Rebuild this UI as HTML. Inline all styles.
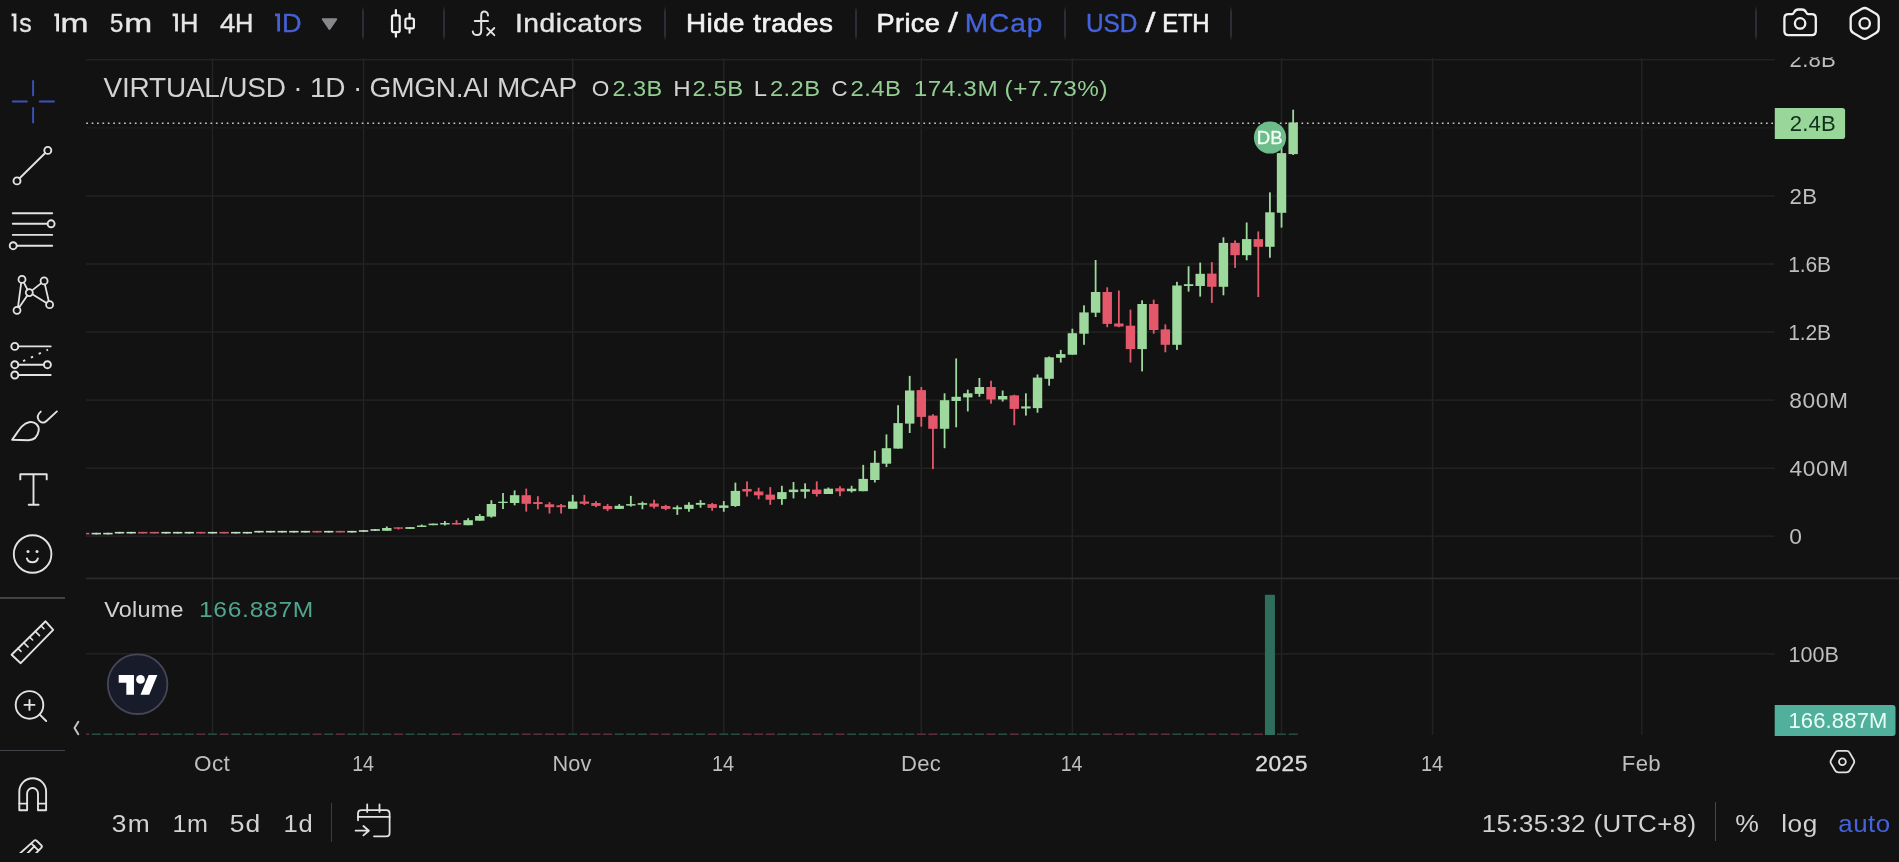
<!DOCTYPE html>
<html><head><meta charset="utf-8"><title>chart</title>
<style>
html,body{margin:0;padding:0;background:#121212;}
body{width:1899px;height:862px;overflow:hidden;position:relative;font-family:"Liberation Sans",sans-serif;}
.t{position:absolute;white-space:pre;font-family:"Liberation Sans",sans-serif;}
svg{position:absolute;left:0;top:0;will-change:transform;}
.sep{position:absolute;width:2px;background:linear-gradient(to bottom,rgba(43,46,55,0),#2b2e37 16%,#2b2e37 84%,rgba(43,46,55,0));border-radius:1px;}
</style></head><body>
<div style="position:absolute;left:0;top:0;width:1899px;height:57px;background:#121212"></div>
<svg width="1899" height="862" viewBox="0 0 1899 862">
<defs><clipPath id="topclip"><rect x="1780" y="57.3" width="80" height="30"/></clipPath><clipPath id="erclip"><rect x="0" y="830" width="70" height="23"/></clipPath><clipPath id="pane"><rect x="86" y="58" width="1689" height="680"/></clipPath></defs>
<rect x="211.75" y="58" width="1.5" height="677" fill="#232324"/><rect x="362.81" y="58" width="1.5" height="677" fill="#232324"/><rect x="571.97" y="58" width="1.5" height="677" fill="#232324"/><rect x="723.03" y="58" width="1.5" height="677" fill="#232324"/><rect x="920.57" y="58" width="1.5" height="677" fill="#232324"/><rect x="1071.63" y="58" width="1.5" height="677" fill="#232324"/><rect x="1280.79" y="58" width="1.5" height="677" fill="#232324"/><rect x="1431.85" y="58" width="1.5" height="677" fill="#232324"/><rect x="1641.01" y="58" width="1.5" height="677" fill="#232324"/><rect x="86" y="58.95" width="1688.6" height="1.5" fill="#232324"/><rect x="86" y="127.05" width="1688.6" height="1.5" fill="#1b1b1c"/><rect x="86" y="195.15" width="1688.6" height="1.5" fill="#232324"/><rect x="86" y="263.25" width="1688.6" height="1.5" fill="#232324"/><rect x="86" y="331.25" width="1688.6" height="1.5" fill="#232324"/><rect x="86" y="399.35" width="1688.6" height="1.5" fill="#232324"/><rect x="86" y="467.45" width="1688.6" height="1.5" fill="#232324"/><rect x="86" y="535.45" width="1688.6" height="1.5" fill="#232324"/><rect x="86" y="653.05" width="1688.6" height="1.5" fill="#232324"/><rect x="86" y="577.6" width="1813" height="1.7" fill="#2b2b30"/><g clip-path="url(#pane)"><rect x="83.78" y="532.8" width="1.8" height="1.6" fill="#c25a6c"/><rect x="79.98" y="532.8" width="9.4" height="1.6" fill="#c25a6c"/><rect x="80.18" y="733.5" width="9" height="1.4" fill="#63343f"/><rect x="95.40" y="532.8" width="1.8" height="1.6" fill="#c2dec2"/><rect x="91.60" y="532.8" width="9.4" height="1.6" fill="#c2dec2"/><rect x="91.80" y="733.5" width="9" height="1.4" fill="#2d5147"/><rect x="107.02" y="532.8" width="1.8" height="1.6" fill="#c2dec2"/><rect x="103.22" y="532.8" width="9.4" height="1.6" fill="#c2dec2"/><rect x="103.42" y="733.5" width="9" height="1.4" fill="#2d5147"/><rect x="118.64" y="531.9" width="1.8" height="1.6" fill="#c2dec2"/><rect x="114.84" y="531.9" width="9.4" height="1.6" fill="#c2dec2"/><rect x="115.04" y="733.5" width="9" height="1.4" fill="#2d5147"/><rect x="130.26" y="531.9" width="1.8" height="1.6" fill="#c2dec2"/><rect x="126.46" y="531.9" width="9.4" height="1.6" fill="#c2dec2"/><rect x="126.66" y="733.5" width="9" height="1.4" fill="#2d5147"/><rect x="141.88" y="531.9" width="1.8" height="1.6" fill="#c25a6c"/><rect x="138.08" y="531.9" width="9.4" height="1.6" fill="#c25a6c"/><rect x="138.28" y="733.5" width="9" height="1.4" fill="#63343f"/><rect x="153.50" y="531.9" width="1.8" height="1.6" fill="#c25a6c"/><rect x="149.70" y="531.9" width="9.4" height="1.6" fill="#c25a6c"/><rect x="149.90" y="733.5" width="9" height="1.4" fill="#63343f"/><rect x="165.12" y="531.9" width="1.8" height="1.6" fill="#c2dec2"/><rect x="161.32" y="531.9" width="9.4" height="1.6" fill="#c2dec2"/><rect x="161.52" y="733.5" width="9" height="1.4" fill="#2d5147"/><rect x="176.74" y="531.9" width="1.8" height="1.6" fill="#c2dec2"/><rect x="172.94" y="531.9" width="9.4" height="1.6" fill="#c2dec2"/><rect x="173.14" y="733.5" width="9" height="1.4" fill="#2d5147"/><rect x="188.36" y="531.9" width="1.8" height="1.6" fill="#c2dec2"/><rect x="184.56" y="531.9" width="9.4" height="1.6" fill="#c2dec2"/><rect x="184.76" y="733.5" width="9" height="1.4" fill="#2d5147"/><rect x="199.98" y="531.9" width="1.8" height="1.6" fill="#c25a6c"/><rect x="196.18" y="531.9" width="9.4" height="1.6" fill="#c25a6c"/><rect x="196.38" y="733.5" width="9" height="1.4" fill="#63343f"/><rect x="211.60" y="531.9" width="1.8" height="1.6" fill="#c2dec2"/><rect x="207.80" y="531.9" width="9.4" height="1.6" fill="#c2dec2"/><rect x="208.00" y="733.5" width="9" height="1.4" fill="#2d5147"/><rect x="223.22" y="531.9" width="1.8" height="1.6" fill="#c25a6c"/><rect x="219.42" y="531.9" width="9.4" height="1.6" fill="#c25a6c"/><rect x="219.62" y="733.5" width="9" height="1.4" fill="#63343f"/><rect x="234.84" y="531.9" width="1.8" height="1.6" fill="#c2dec2"/><rect x="231.04" y="531.9" width="9.4" height="1.6" fill="#c2dec2"/><rect x="231.24" y="733.5" width="9" height="1.4" fill="#2d5147"/><rect x="246.46" y="531.9" width="1.8" height="1.6" fill="#c2dec2"/><rect x="242.66" y="531.9" width="9.4" height="1.6" fill="#c2dec2"/><rect x="242.86" y="733.5" width="9" height="1.4" fill="#2d5147"/><rect x="258.08" y="530.9" width="1.8" height="1.6" fill="#c2dec2"/><rect x="254.28" y="530.9" width="9.4" height="1.6" fill="#c2dec2"/><rect x="254.48" y="733.5" width="9" height="1.4" fill="#2d5147"/><rect x="269.70" y="530.9" width="1.8" height="1.6" fill="#c2dec2"/><rect x="265.90" y="530.9" width="9.4" height="1.6" fill="#c2dec2"/><rect x="266.10" y="733.5" width="9" height="1.4" fill="#2d5147"/><rect x="281.32" y="530.9" width="1.8" height="1.6" fill="#c2dec2"/><rect x="277.52" y="530.9" width="9.4" height="1.6" fill="#c2dec2"/><rect x="277.72" y="733.5" width="9" height="1.4" fill="#2d5147"/><rect x="292.94" y="530.9" width="1.8" height="1.6" fill="#c2dec2"/><rect x="289.14" y="530.9" width="9.4" height="1.6" fill="#c2dec2"/><rect x="289.34" y="733.5" width="9" height="1.4" fill="#2d5147"/><rect x="304.56" y="530.9" width="1.8" height="1.6" fill="#c2dec2"/><rect x="300.76" y="530.9" width="9.4" height="1.6" fill="#c2dec2"/><rect x="300.96" y="733.5" width="9" height="1.4" fill="#2d5147"/><rect x="316.18" y="530.9" width="1.8" height="1.6" fill="#c25a6c"/><rect x="312.38" y="530.9" width="9.4" height="1.6" fill="#c25a6c"/><rect x="312.58" y="733.5" width="9" height="1.4" fill="#63343f"/><rect x="327.80" y="530.9" width="1.8" height="1.6" fill="#c2dec2"/><rect x="324.00" y="530.9" width="9.4" height="1.6" fill="#c2dec2"/><rect x="324.20" y="733.5" width="9" height="1.4" fill="#2d5147"/><rect x="339.42" y="530.9" width="1.8" height="1.6" fill="#c25a6c"/><rect x="335.62" y="530.9" width="9.4" height="1.6" fill="#c25a6c"/><rect x="335.82" y="733.5" width="9" height="1.4" fill="#63343f"/><rect x="351.04" y="530.9" width="1.8" height="1.6" fill="#c2dec2"/><rect x="347.24" y="530.9" width="9.4" height="1.6" fill="#c2dec2"/><rect x="347.44" y="733.5" width="9" height="1.4" fill="#2d5147"/><rect x="362.66" y="530.2" width="1.8" height="1.6" fill="#c2dec2"/><rect x="358.86" y="530.2" width="9.4" height="1.6" fill="#c2dec2"/><rect x="359.06" y="733.5" width="9" height="1.4" fill="#2d5147"/><rect x="374.28" y="529.2" width="1.8" height="1.6" fill="#c2dec2"/><rect x="370.48" y="529.2" width="9.4" height="1.6" fill="#c2dec2"/><rect x="370.68" y="733.5" width="9" height="1.4" fill="#2d5147"/><rect x="385.90" y="526.5" width="1.8" height="4.3" fill="#9dd99d"/><rect x="382.10" y="528.0" width="9.4" height="2.8" fill="#9dd99d"/><rect x="382.30" y="733.5" width="9" height="1.4" fill="#2d5147"/><rect x="397.52" y="527.4" width="1.8" height="2.1" fill="#e4586c"/><rect x="393.72" y="527.4" width="9.4" height="1.3" fill="#e4586c"/><rect x="393.92" y="733.5" width="9" height="1.4" fill="#63343f"/><rect x="409.14" y="527.1" width="1.8" height="1.8" fill="#9dd99d"/><rect x="405.34" y="527.1" width="9.4" height="1.8" fill="#9dd99d"/><rect x="405.54" y="733.5" width="9" height="1.4" fill="#2d5147"/><rect x="420.76" y="524.5" width="1.8" height="2.5" fill="#9dd99d"/><rect x="416.96" y="525.5" width="9.4" height="1.5" fill="#9dd99d"/><rect x="417.16" y="733.5" width="9" height="1.4" fill="#2d5147"/><rect x="432.38" y="523.6" width="1.8" height="1.6" fill="#9dd99d"/><rect x="428.58" y="523.6" width="9.4" height="1.6" fill="#9dd99d"/><rect x="428.78" y="733.5" width="9" height="1.4" fill="#2d5147"/><rect x="444.00" y="521.0" width="1.8" height="4.5" fill="#9dd99d"/><rect x="440.20" y="523.0" width="9.4" height="1.5" fill="#9dd99d"/><rect x="440.40" y="733.5" width="9" height="1.4" fill="#2d5147"/><rect x="455.62" y="520.2" width="1.8" height="4.3" fill="#e4586c"/><rect x="451.82" y="523.0" width="9.4" height="1.5" fill="#e4586c"/><rect x="452.02" y="733.5" width="9" height="1.4" fill="#63343f"/><rect x="467.24" y="518.2" width="1.8" height="7.0" fill="#9dd99d"/><rect x="463.44" y="520.2" width="9.4" height="5.0" fill="#9dd99d"/><rect x="463.64" y="733.5" width="9" height="1.4" fill="#2d5147"/><rect x="478.86" y="514.1" width="1.8" height="6.6" fill="#9dd99d"/><rect x="475.06" y="516.0" width="9.4" height="4.7" fill="#9dd99d"/><rect x="475.26" y="733.5" width="9" height="1.4" fill="#2d5147"/><rect x="490.48" y="500.2" width="1.8" height="17.4" fill="#9dd99d"/><rect x="486.68" y="504.0" width="9.4" height="12.6" fill="#9dd99d"/><rect x="486.88" y="733.5" width="9" height="1.4" fill="#2d5147"/><rect x="502.10" y="493.0" width="1.8" height="16.0" fill="#9dd99d"/><rect x="498.30" y="501.7" width="9.4" height="1.3" fill="#9dd99d"/><rect x="498.50" y="733.5" width="9" height="1.4" fill="#2d5147"/><rect x="513.72" y="490.4" width="1.8" height="14.9" fill="#9dd99d"/><rect x="509.92" y="495.2" width="9.4" height="7.8" fill="#9dd99d"/><rect x="510.12" y="733.5" width="9" height="1.4" fill="#2d5147"/><rect x="525.34" y="488.6" width="1.8" height="23.0" fill="#e4586c"/><rect x="521.54" y="495.2" width="9.4" height="8.6" fill="#e4586c"/><rect x="521.74" y="733.5" width="9" height="1.4" fill="#63343f"/><rect x="536.96" y="496.2" width="1.8" height="13.1" fill="#e4586c"/><rect x="533.16" y="502.1" width="9.4" height="1.9" fill="#e4586c"/><rect x="533.36" y="733.5" width="9" height="1.4" fill="#63343f"/><rect x="548.58" y="502.1" width="1.8" height="11.4" fill="#e4586c"/><rect x="544.78" y="504.3" width="9.4" height="2.9" fill="#e4586c"/><rect x="544.98" y="733.5" width="9" height="1.4" fill="#63343f"/><rect x="560.20" y="504.0" width="1.8" height="9.5" fill="#e4586c"/><rect x="556.40" y="505.3" width="9.4" height="1.9" fill="#e4586c"/><rect x="556.60" y="733.5" width="9" height="1.4" fill="#63343f"/><rect x="571.82" y="494.9" width="1.8" height="13.9" fill="#9dd99d"/><rect x="568.02" y="501.5" width="9.4" height="7.3" fill="#9dd99d"/><rect x="568.22" y="733.5" width="9" height="1.4" fill="#2d5147"/><rect x="583.44" y="494.9" width="1.8" height="10.1" fill="#e4586c"/><rect x="579.64" y="501.5" width="9.4" height="2.3" fill="#e4586c"/><rect x="579.84" y="733.5" width="9" height="1.4" fill="#63343f"/><rect x="595.06" y="501.2" width="1.8" height="6.0" fill="#e4586c"/><rect x="591.26" y="503.0" width="9.4" height="2.9" fill="#e4586c"/><rect x="591.46" y="733.5" width="9" height="1.4" fill="#63343f"/><rect x="606.68" y="504.1" width="1.8" height="7.0" fill="#e4586c"/><rect x="602.88" y="506.0" width="9.4" height="3.2" fill="#e4586c"/><rect x="603.08" y="733.5" width="9" height="1.4" fill="#63343f"/><rect x="618.30" y="504.1" width="1.8" height="4.8" fill="#9dd99d"/><rect x="614.50" y="505.8" width="9.4" height="3.1" fill="#9dd99d"/><rect x="614.70" y="733.5" width="9" height="1.4" fill="#2d5147"/><rect x="629.92" y="495.9" width="1.8" height="10.7" fill="#9dd99d"/><rect x="626.12" y="504.1" width="9.4" height="1.5" fill="#9dd99d"/><rect x="626.32" y="733.5" width="9" height="1.4" fill="#2d5147"/><rect x="641.54" y="501.6" width="1.8" height="7.6" fill="#9dd99d"/><rect x="637.74" y="503.1" width="9.4" height="1.7" fill="#9dd99d"/><rect x="637.94" y="733.5" width="9" height="1.4" fill="#2d5147"/><rect x="653.16" y="499.7" width="1.8" height="8.8" fill="#e4586c"/><rect x="649.36" y="503.5" width="9.4" height="3.2" fill="#e4586c"/><rect x="649.56" y="733.5" width="9" height="1.4" fill="#63343f"/><rect x="664.78" y="504.8" width="1.8" height="5.4" fill="#e4586c"/><rect x="660.98" y="506.0" width="9.4" height="2.9" fill="#e4586c"/><rect x="661.18" y="733.5" width="9" height="1.4" fill="#63343f"/><rect x="676.40" y="505.4" width="1.8" height="9.5" fill="#9dd99d"/><rect x="672.60" y="507.3" width="9.4" height="1.9" fill="#9dd99d"/><rect x="672.80" y="733.5" width="9" height="1.4" fill="#2d5147"/><rect x="688.02" y="502.2" width="1.8" height="9.5" fill="#9dd99d"/><rect x="684.22" y="504.8" width="9.4" height="4.1" fill="#9dd99d"/><rect x="684.42" y="733.5" width="9" height="1.4" fill="#2d5147"/><rect x="699.64" y="500.1" width="1.8" height="7.6" fill="#9dd99d"/><rect x="695.84" y="502.9" width="9.4" height="1.9" fill="#9dd99d"/><rect x="696.04" y="733.5" width="9" height="1.4" fill="#2d5147"/><rect x="711.26" y="502.9" width="1.8" height="7.8" fill="#e4586c"/><rect x="707.46" y="504.1" width="9.4" height="3.8" fill="#e4586c"/><rect x="707.66" y="733.5" width="9" height="1.4" fill="#63343f"/><rect x="722.88" y="501.0" width="1.8" height="10.7" fill="#9dd99d"/><rect x="719.08" y="505.4" width="9.4" height="2.5" fill="#9dd99d"/><rect x="719.28" y="733.5" width="9" height="1.4" fill="#2d5147"/><rect x="734.50" y="482.6" width="1.8" height="24.3" fill="#9dd99d"/><rect x="730.70" y="490.9" width="9.4" height="15.1" fill="#9dd99d"/><rect x="730.90" y="733.5" width="9" height="1.4" fill="#2d5147"/><rect x="746.12" y="481.4" width="1.8" height="15.1" fill="#e4586c"/><rect x="742.32" y="489.0" width="9.4" height="2.5" fill="#e4586c"/><rect x="742.52" y="733.5" width="9" height="1.4" fill="#63343f"/><rect x="757.74" y="487.7" width="1.8" height="11.6" fill="#e4586c"/><rect x="753.94" y="491.5" width="9.4" height="3.8" fill="#e4586c"/><rect x="754.14" y="733.5" width="9" height="1.4" fill="#63343f"/><rect x="769.36" y="487.1" width="1.8" height="17.7" fill="#e4586c"/><rect x="765.56" y="494.6" width="9.4" height="5.1" fill="#e4586c"/><rect x="765.76" y="733.5" width="9" height="1.4" fill="#63343f"/><rect x="780.98" y="485.8" width="1.8" height="19.0" fill="#9dd99d"/><rect x="777.18" y="492.1" width="9.4" height="7.0" fill="#9dd99d"/><rect x="777.38" y="733.5" width="9" height="1.4" fill="#2d5147"/><rect x="792.60" y="482.0" width="1.8" height="16.4" fill="#9dd99d"/><rect x="788.80" y="489.6" width="9.4" height="2.5" fill="#9dd99d"/><rect x="789.00" y="733.5" width="9" height="1.4" fill="#2d5147"/><rect x="804.22" y="483.3" width="1.8" height="15.1" fill="#9dd99d"/><rect x="800.42" y="489.2" width="9.4" height="2.5" fill="#9dd99d"/><rect x="800.62" y="733.5" width="9" height="1.4" fill="#2d5147"/><rect x="815.84" y="481.4" width="1.8" height="15.1" fill="#e4586c"/><rect x="812.04" y="489.6" width="9.4" height="4.4" fill="#e4586c"/><rect x="812.24" y="733.5" width="9" height="1.4" fill="#63343f"/><rect x="827.46" y="487.5" width="1.8" height="6.5" fill="#9dd99d"/><rect x="823.66" y="488.7" width="9.4" height="5.3" fill="#9dd99d"/><rect x="823.86" y="733.5" width="9" height="1.4" fill="#2d5147"/><rect x="839.08" y="486.2" width="1.8" height="10.0" fill="#e4586c"/><rect x="835.28" y="488.3" width="9.4" height="3.1" fill="#e4586c"/><rect x="835.48" y="733.5" width="9" height="1.4" fill="#63343f"/><rect x="850.70" y="485.8" width="1.8" height="6.7" fill="#9dd99d"/><rect x="846.90" y="488.7" width="9.4" height="2.5" fill="#9dd99d"/><rect x="847.10" y="733.5" width="9" height="1.4" fill="#2d5147"/><rect x="862.32" y="464.9" width="1.8" height="26.3" fill="#9dd99d"/><rect x="858.52" y="478.9" width="9.4" height="12.3" fill="#9dd99d"/><rect x="858.72" y="733.5" width="9" height="1.4" fill="#2d5147"/><rect x="873.94" y="450.7" width="1.8" height="31.8" fill="#9dd99d"/><rect x="870.14" y="462.8" width="9.4" height="17.2" fill="#9dd99d"/><rect x="870.34" y="733.5" width="9" height="1.4" fill="#2d5147"/><rect x="885.56" y="434.4" width="1.8" height="32.6" fill="#9dd99d"/><rect x="881.76" y="448.2" width="9.4" height="15.5" fill="#9dd99d"/><rect x="881.96" y="733.5" width="9" height="1.4" fill="#2d5147"/><rect x="897.18" y="405.2" width="1.8" height="43.4" fill="#9dd99d"/><rect x="893.38" y="423.1" width="9.4" height="25.5" fill="#9dd99d"/><rect x="893.58" y="733.5" width="9" height="1.4" fill="#2d5147"/><rect x="908.80" y="375.9" width="1.8" height="57.1" fill="#9dd99d"/><rect x="905.00" y="390.5" width="9.4" height="33.1" fill="#9dd99d"/><rect x="905.20" y="733.5" width="9" height="1.4" fill="#2d5147"/><rect x="920.42" y="387.0" width="1.8" height="39.7" fill="#e4586c"/><rect x="916.62" y="390.1" width="9.4" height="26.8" fill="#e4586c"/><rect x="916.82" y="733.5" width="9" height="1.4" fill="#63343f"/><rect x="932.04" y="414.2" width="1.8" height="54.9" fill="#e4586c"/><rect x="928.24" y="415.6" width="9.4" height="13.2" fill="#e4586c"/><rect x="928.44" y="733.5" width="9" height="1.4" fill="#63343f"/><rect x="943.66" y="393.3" width="1.8" height="54.9" fill="#9dd99d"/><rect x="939.86" y="400.2" width="9.4" height="28.6" fill="#9dd99d"/><rect x="940.06" y="733.5" width="9" height="1.4" fill="#2d5147"/><rect x="955.28" y="358.4" width="1.8" height="68.9" fill="#9dd99d"/><rect x="951.48" y="396.8" width="9.4" height="4.2" fill="#9dd99d"/><rect x="951.68" y="733.5" width="9" height="1.4" fill="#2d5147"/><rect x="966.90" y="389.7" width="1.8" height="21.7" fill="#9dd99d"/><rect x="963.10" y="393.3" width="9.4" height="4.1" fill="#9dd99d"/><rect x="963.30" y="733.5" width="9" height="1.4" fill="#2d5147"/><rect x="978.52" y="378.0" width="1.8" height="18.8" fill="#9dd99d"/><rect x="974.72" y="387.0" width="9.4" height="6.9" fill="#9dd99d"/><rect x="974.92" y="733.5" width="9" height="1.4" fill="#2d5147"/><rect x="990.14" y="380.7" width="1.8" height="23.0" fill="#e4586c"/><rect x="986.34" y="387.0" width="9.4" height="12.5" fill="#e4586c"/><rect x="986.54" y="733.5" width="9" height="1.4" fill="#63343f"/><rect x="1001.76" y="390.5" width="1.8" height="11.1" fill="#9dd99d"/><rect x="997.96" y="396.0" width="9.4" height="3.5" fill="#9dd99d"/><rect x="998.16" y="733.5" width="9" height="1.4" fill="#2d5147"/><rect x="1013.38" y="394.7" width="1.8" height="30.5" fill="#e4586c"/><rect x="1009.58" y="395.4" width="9.4" height="13.5" fill="#e4586c"/><rect x="1009.78" y="733.5" width="9" height="1.4" fill="#63343f"/><rect x="1025.00" y="393.3" width="1.8" height="22.3" fill="#9dd99d"/><rect x="1021.20" y="406.4" width="9.4" height="2.1" fill="#9dd99d"/><rect x="1021.40" y="733.5" width="9" height="1.4" fill="#2d5147"/><rect x="1036.62" y="374.5" width="1.8" height="38.2" fill="#9dd99d"/><rect x="1032.82" y="377.6" width="9.4" height="30.5" fill="#9dd99d"/><rect x="1033.02" y="733.5" width="9" height="1.4" fill="#2d5147"/><rect x="1048.24" y="356.5" width="1.8" height="29.2" fill="#9dd99d"/><rect x="1044.44" y="357.3" width="9.4" height="21.5" fill="#9dd99d"/><rect x="1044.64" y="733.5" width="9" height="1.4" fill="#2d5147"/><rect x="1059.86" y="349.9" width="1.8" height="12.6" fill="#9dd99d"/><rect x="1056.06" y="354.1" width="9.4" height="3.7" fill="#9dd99d"/><rect x="1056.26" y="733.5" width="9" height="1.4" fill="#2d5147"/><rect x="1071.48" y="328.7" width="1.8" height="26.0" fill="#9dd99d"/><rect x="1067.68" y="333.2" width="9.4" height="21.5" fill="#9dd99d"/><rect x="1067.88" y="733.5" width="9" height="1.4" fill="#2d5147"/><rect x="1083.10" y="305.3" width="1.8" height="39.5" fill="#9dd99d"/><rect x="1079.30" y="312.4" width="9.4" height="21.3" fill="#9dd99d"/><rect x="1079.50" y="733.5" width="9" height="1.4" fill="#2d5147"/><rect x="1094.72" y="260.0" width="1.8" height="57.0" fill="#9dd99d"/><rect x="1090.92" y="292.0" width="9.4" height="20.7" fill="#9dd99d"/><rect x="1091.12" y="733.5" width="9" height="1.4" fill="#2d5147"/><rect x="1106.34" y="287.3" width="1.8" height="39.9" fill="#e4586c"/><rect x="1102.54" y="292.0" width="9.4" height="31.9" fill="#e4586c"/><rect x="1102.74" y="733.5" width="9" height="1.4" fill="#63343f"/><rect x="1117.96" y="290.5" width="1.8" height="36.7" fill="#e4586c"/><rect x="1114.16" y="323.5" width="9.4" height="3.0" fill="#e4586c"/><rect x="1114.36" y="733.5" width="9" height="1.4" fill="#63343f"/><rect x="1129.58" y="309.6" width="1.8" height="52.9" fill="#e4586c"/><rect x="1125.78" y="325.7" width="9.4" height="23.4" fill="#e4586c"/><rect x="1125.98" y="733.5" width="9" height="1.4" fill="#63343f"/><rect x="1141.20" y="300.3" width="1.8" height="71.1" fill="#9dd99d"/><rect x="1137.40" y="304.0" width="9.4" height="45.1" fill="#9dd99d"/><rect x="1137.60" y="733.5" width="9" height="1.4" fill="#2d5147"/><rect x="1152.82" y="299.7" width="1.8" height="34.0" fill="#e4586c"/><rect x="1149.02" y="304.0" width="9.4" height="26.0" fill="#e4586c"/><rect x="1149.22" y="733.5" width="9" height="1.4" fill="#63343f"/><rect x="1164.44" y="324.4" width="1.8" height="27.9" fill="#e4586c"/><rect x="1160.64" y="329.4" width="9.4" height="15.4" fill="#e4586c"/><rect x="1160.84" y="733.5" width="9" height="1.4" fill="#63343f"/><rect x="1176.06" y="281.8" width="1.8" height="68.1" fill="#9dd99d"/><rect x="1172.26" y="285.5" width="9.4" height="59.3" fill="#9dd99d"/><rect x="1172.46" y="733.5" width="9" height="1.4" fill="#2d5147"/><rect x="1187.68" y="266.3" width="1.8" height="25.3" fill="#9dd99d"/><rect x="1183.88" y="284.2" width="9.4" height="1.8" fill="#9dd99d"/><rect x="1184.08" y="733.5" width="9" height="1.4" fill="#2d5147"/><rect x="1199.30" y="262.6" width="1.8" height="34.0" fill="#9dd99d"/><rect x="1195.50" y="273.8" width="9.4" height="12.2" fill="#9dd99d"/><rect x="1195.70" y="733.5" width="9" height="1.4" fill="#2d5147"/><rect x="1210.92" y="262.1" width="1.8" height="40.8" fill="#e4586c"/><rect x="1207.12" y="273.6" width="9.4" height="13.2" fill="#e4586c"/><rect x="1207.32" y="733.5" width="9" height="1.4" fill="#63343f"/><rect x="1222.54" y="237.3" width="1.8" height="58.0" fill="#9dd99d"/><rect x="1218.74" y="242.9" width="9.4" height="43.9" fill="#9dd99d"/><rect x="1218.94" y="733.5" width="9" height="1.4" fill="#2d5147"/><rect x="1234.16" y="240.4" width="1.8" height="27.5" fill="#e4586c"/><rect x="1230.36" y="242.9" width="9.4" height="12.3" fill="#e4586c"/><rect x="1230.56" y="733.5" width="9" height="1.4" fill="#63343f"/><rect x="1245.78" y="222.5" width="1.8" height="37.8" fill="#9dd99d"/><rect x="1241.98" y="239.1" width="9.4" height="16.1" fill="#9dd99d"/><rect x="1242.18" y="733.5" width="9" height="1.4" fill="#2d5147"/><rect x="1257.40" y="231.4" width="1.8" height="65.6" fill="#e4586c"/><rect x="1253.60" y="239.1" width="9.4" height="7.7" fill="#e4586c"/><rect x="1253.80" y="733.5" width="9" height="1.4" fill="#63343f"/><rect x="1269.02" y="192.4" width="1.8" height="65.3" fill="#9dd99d"/><rect x="1265.22" y="212.3" width="9.4" height="34.5" fill="#9dd99d"/><rect x="1280.64" y="145.0" width="1.8" height="82.6" fill="#9dd99d"/><rect x="1276.84" y="153.1" width="9.4" height="59.7" fill="#9dd99d"/><rect x="1277.04" y="733.5" width="9" height="1.4" fill="#2d5147"/><rect x="1292.26" y="109.7" width="1.8" height="45.3" fill="#9dd99d"/><rect x="1288.46" y="122.5" width="9.4" height="31.6" fill="#9dd99d"/><rect x="1288.66" y="733.5" width="9" height="1.4" fill="#2d5147"/></g><rect x="1264.92" y="594.8" width="10" height="140.2" fill="#2f6e5d"/><line x1="86.25" y1="123.2" x2="1773.6" y2="123.2" stroke="#c6c6c6" stroke-width="1.6" stroke-dasharray="1.7 3.701"/><circle cx="1270" cy="137.5" r="16.1" fill="#6cbd8a"/><path d="M1774.8 108.1H1842.3Q1845.1 108.1 1845.1 110.9V136.3Q1845.1 139.1 1842.3 139.1H1774.8Z" fill="#99d699"/><path d="M1774.7 705.1H1892.5Q1895.5 705.1 1895.5 708.1V733.1Q1895.5 736.1 1892.5 736.1H1774.7Z" fill="#51b09b"/>
<g fill="none" stroke="#e2e2e2" stroke-width="1.9" stroke-linecap="round" stroke-linejoin="round">
<!-- crosshair (blue) -->
<g stroke="#3a52bd" stroke-width="1.9">
<path d="M33.1 81V95.3M33.1 107.9V122.5M12.8 101.5H26.9M39.7 101.5H54"/>
</g>
<!-- trend line -->
<circle cx="47.8" cy="150.4" r="3.5"/><circle cx="17" cy="180.9" r="3.5"/>
<path d="M19.6 178.3L45.2 153"/>
<!-- horizontal lines -->
<path d="M12.8 213.3H52.2M12.8 223.8H47.5M12.8 234.9H52.2M16.8 245.7H52.2"/>
<circle cx="51.1" cy="223.8" r="3.5"/><circle cx="13.2" cy="245.7" r="3.5"/>
<!-- pattern -->
<g stroke-width="1.8">
<circle cx="22" cy="279.4" r="3.5"/><circle cx="44.1" cy="280.9" r="3.5"/><circle cx="29.3" cy="292.6" r="3.5"/><circle cx="17" cy="310.3" r="3.5"/><circle cx="49.6" cy="304.7" r="3.5"/>
<path d="M18 306.9L21.2 282.9M23.8 282.4L27.4 289.6M32.1 290.4L41.3 283.1M44.9 284.4L48.8 301.2M32.4 294.3L46.5 303M19.1 307.4L27.3 295.5"/>
</g>
<!-- lines with dots -->
<circle cx="14.8" cy="346.4" r="3.5"/><path d="M18.4 346.4H50.7"/>
<circle cx="14.8" cy="364.7" r="3.5"/><circle cx="47.4" cy="364.7" r="3.5"/><path d="M18.4 364.7H43.8"/>
<circle cx="14.8" cy="375" r="3.5"/><path d="M18.4 375H50.7"/>
<path d="M23.1 361.2L48 349.6" stroke-dasharray="2.4 6.2" stroke-linecap="butt"/>
<!-- brush -->
<path d="M12.1 439.8C18 432 22 423.5 29 422.2C35.5 421 39.6 426 38.6 431C37.6 436.5 34 440 28.5 440.2Z"/>
<path d="M56.9 411.4L46.5 421C43.5 423.8 40.5 422.5 38.7 420C36.8 417 38 414 40.8 411.6"/>
<!-- T -->
<path d="M20.3 479.4V474.2H46.7V479.4M33.5 474.2V504.7M28.7 504.7H38.6"/>
<!-- smiley -->
<circle cx="32.6" cy="554" r="18.8"/>
<path d="M26.9 558.4C28.5 563.6 36.3 563.6 37.9 558.4"/>
<circle cx="28" cy="551.4" r="1.5" fill="#e2e2e2" stroke="none"/><circle cx="37" cy="551.4" r="1.5" fill="#e2e2e2" stroke="none"/>
<!-- ruler -->
<path d="M11.6 654.7L45.6 621.3L53.2 629.8L20.7 663.2Z"/>
<path d="M18 648.4L21 651.4M23.8 642.7L28 646.9M29.6 637L32.6 640M35.3 631.4L39.5 635.6M41 625.8L44 628.8" stroke-width="1.6"/>
<!-- zoom -->
<circle cx="29.5" cy="704.9" r="13.8"/>
<path d="M24.5 704.9H34.5M29.5 699.9V709.9M39.8 714.6L46.2 721"/>
<!-- magnet -->
<path d="M19.3 810.2V791.6A13.4 13.4 0 0 1 46.1 791.6V810.2H38V793.5A5.45 5.45 0 0 0 27.1 793.5V810.2Z"/>
<path d="M19.3 803.6H27.1M38 803.6H46.1"/>
<!-- eraser partial -->
<g clip-path="url(#erclip)"><path d="M19 854.3L34.2 840.6Q35.4 839.6 36.6 840.7L41.4 845.4Q42.4 846.5 41.4 847.6L35 854.3M26.5 854.3L34.5 846.2M31.8 843.9L37.6 849.6"/></g>
<!-- chevron -->
<path d="M78.3 721.8L74.5 728L78.3 734.2" stroke="#c4c4c4" stroke-width="2"/>
<!-- candle icon top -->
<g stroke-width="2.2" stroke="#efefef">
<rect x="392" y="15.3" width="7.7" height="16.8" rx="1.6"/><path d="M395.9 10.2V15.3M395.9 32.1V36.7"/>
<rect x="405.4" y="18.5" width="8.5" height="9.9" rx="1.6"/><path d="M409.6 13.9V18.5M409.6 28.4V32.7"/>
</g>
<!-- fx icon -->
<path d="M488 15.6C488 12.8 486 11.4 484.2 11.4C482 11.4 481.2 13 481.2 15.5V30.5C481.2 33.5 479.5 35 477.2 35C474.8 35 473 33.6 472.8 31.5M474.8 21H488" stroke-width="2"/>
<path d="M487.2 28L494.3 35.2M494.3 28L487.2 35.2" stroke-width="1.9"/>
<!-- camera -->
<g stroke-width="2.3" stroke="#f0f0f0">
<path d="M1784.4 18.2C1784.4 15.6 1785.9 14.1 1788.5 14.1H1791.8C1793.2 14.1 1793.6 13.3 1794.3 11.9C1795.2 10.1 1796.3 9.5 1798.2 9.5H1802C1803.9 9.5 1805 10.1 1805.9 11.9C1806.6 13.3 1807 14.1 1808.4 14.1H1811.7C1814.3 14.1 1815.8 15.6 1815.8 18.2V31C1815.8 33.6 1814.3 35.1 1811.7 35.1H1788.5C1785.9 35.1 1784.4 33.6 1784.4 31Z"/>
<circle cx="1800.1" cy="23.4" r="5.2"/>
<!-- hex settings -->
<path d="M1861.93 8.80Q1864.70 7.20 1867.47 8.80L1875.96 13.70Q1878.73 15.30 1878.73 18.50L1878.73 28.30Q1878.73 31.50 1875.96 33.10L1867.47 38.00Q1864.70 39.60 1861.93 38.00L1853.44 33.10Q1850.67 31.50 1850.67 28.30L1850.67 18.50Q1850.67 15.30 1853.44 13.70Z"/>
<circle cx="1864.7" cy="23.4" r="5.2"/>
</g>
<!-- bottom hex settings -->
<g stroke-width="1.8">
<path d="M1853.70 759.79Q1854.80 761.70 1853.70 763.61L1849.70 770.53Q1848.60 772.44 1846.40 772.44L1838.40 772.44Q1836.20 772.44 1835.10 770.53L1831.10 763.61Q1830.00 761.70 1831.10 759.79L1835.10 752.87Q1836.20 750.96 1838.40 750.96L1846.40 750.96Q1848.60 750.96 1849.70 752.87Z"/>
<circle cx="1842.4" cy="761.7" r="3.4"/>
</g>
<!-- calendar goto -->
<g stroke-width="1.8">
<path d="M358 820.3V813.6C358 811.3 359.3 810.2 361.4 810.2H386.2C388.3 810.2 389.6 811.3 389.6 813.6V832.9C389.6 835.2 388.3 836.3 386.2 836.3H374"/>
<path d="M358 816.9H389.6M367.2 804.5V811.9M379.5 804.5V811.9"/>
<path d="M355.6 830.7H368.5M363.4 826L368.9 830.7L363.4 835.4"/>
</g>
</g>
<!-- dropdown triangle -->
<path d="M322.8 19.2H336.2L329.5 29Z" fill="#88888c" stroke="#88888c" stroke-width="2" stroke-linejoin="round"/>
<!-- TV logo -->
<circle cx="137.6" cy="684.2" r="29.8" fill="#181b29" stroke="#454757" stroke-width="1.8"/>
<g transform="translate(118.7 670.7) scale(1.09)" fill="#ffffff">
<path d="M14 22H7V11H0V4h14v18zM28 22h-8l7.5-18h8L28 22z"/><circle cx="20" cy="8" r="4"/>
</g>

<path d="M11.6 13.6H16.4V31.6H13.599999999999998V16.2H11.6Z" fill="#e6e6e6"/><path d="M54.3 13.6H59V31.6H56.2V16.2H54.3Z" fill="#e6e6e6"/><path d="M172.6 13.6H177.9V31.6H175.1V16.2H172.6Z" fill="#e6e6e6"/><path d="M275 13.6H280V31.6H277.2V16.2H275Z" fill="#4460d2"/>
<g font-family="Liberation Sans, sans-serif" style="white-space:pre"><text transform="translate(19.13 31.54) scale(0.956 1)" font-size="26" fill="#e6e6e6" stroke="#e6e6e6" stroke-width="0.35" stroke-linejoin="round">s</text>
<text transform="translate(60.61 31.54) scale(1.290 1)" font-size="26" fill="#e6e6e6" stroke="#e6e6e6" stroke-width="0.35" stroke-linejoin="round">m</text>
<text transform="translate(109.88 31.54) scale(0.919 1)" font-size="26" fill="#e6e6e6" stroke="#e6e6e6" stroke-width="0.35" stroke-linejoin="round">5</text>
<text transform="translate(124.21 31.54) scale(1.290 1)" font-size="26" fill="#e6e6e6" stroke="#e6e6e6" stroke-width="0.35" stroke-linejoin="round">m</text>
<text transform="translate(180.04 31.54) scale(0.979 1)" font-size="26" fill="#e6e6e6" stroke="#e6e6e6" stroke-width="0.35" stroke-linejoin="round">H</text>
<text transform="translate(219.97 31.54) scale(1.068 1)" font-size="26" fill="#e6e6e6" stroke="#e6e6e6" stroke-width="0.35" stroke-linejoin="round">4</text>
<text transform="translate(235.04 31.54) scale(0.979 1)" font-size="26" fill="#e6e6e6" stroke="#e6e6e6" stroke-width="0.35" stroke-linejoin="round">H</text>
<text transform="translate(282.11 31.54) scale(1.045 1)" font-size="26" fill="#4460d2" stroke="#4460d2" stroke-width="0.35" stroke-linejoin="round">D</text>
<text transform="translate(514.90 31.54) scale(1.0850 1)" letter-spacing="0.513" font-size="26" fill="#e6e6e6" stroke="#e6e6e6" stroke-width="0.35" stroke-linejoin="round">Indicators</text>
<text transform="translate(685.96 31.54) scale(1.0690 1)" letter-spacing="0.452" font-size="26" fill="#f2f2f2" stroke="#f2f2f2" stroke-width="0.65" stroke-linejoin="round">Hide trades</text>
<text transform="translate(876.61 31.54) scale(1.0452 1)" letter-spacing="0.326" font-size="26" fill="#f2f2f2" stroke="#f2f2f2" stroke-width="0.65" stroke-linejoin="round">Price</text>
<text transform="translate(948.00 32.23) scale(1.282 1)" font-size="28" fill="#f2f2f2" stroke="#f2f2f2" stroke-width="0.35" stroke-linejoin="round">/</text>
<text transform="translate(964.74 31.54) scale(1.0785 1)" letter-spacing="0.865" font-size="26" fill="#4563dd" stroke="#4563dd" stroke-width="0.35" stroke-linejoin="round">MCap</text>
<text transform="translate(1086.12 31.54) scale(0.9416 1)" letter-spacing="-0.256" font-size="26" fill="#4563dd" stroke="#4563dd" stroke-width="0.35" stroke-linejoin="round">USD</text>
<text transform="translate(1145.50 32.23) scale(1.282 1)" font-size="28" fill="#f2f2f2" stroke="#f2f2f2" stroke-width="0.35" stroke-linejoin="round">/</text>
<text transform="translate(1162.28 31.54) scale(0.9149 1)" letter-spacing="-0.237" font-size="26" fill="#f2f2f2" stroke="#f2f2f2" stroke-width="0.65" stroke-linejoin="round">ETH</text>
<text x="103.50" y="96.93" letter-spacing="-0.217" font-size="28" fill="#d2d2d2">VIRTUAL/USD · 1D · GMGN.AI MCAP</text>
<text transform="translate(591.79 95.94) scale(1.006 1)" font-size="22.5" fill="#d2d2d2">O</text>
<text transform="translate(612.45 95.94) scale(1.0486 1)" letter-spacing="0.367" font-size="22.5" fill="#93cd93">2.3B</text>
<text transform="translate(673.37 95.94) scale(1.071 1)" font-size="22.5" fill="#d2d2d2">H</text>
<text transform="translate(692.53 95.94) scale(1.0634 1)" letter-spacing="0.472" font-size="22.5" fill="#93cd93">2.5B</text>
<text transform="translate(753.79 95.94) scale(1.060 1)" font-size="22.5" fill="#d2d2d2">L</text>
<text transform="translate(769.94 95.94) scale(1.0545 1)" letter-spacing="0.409" font-size="22.5" fill="#93cd93">2.2B</text>
<text transform="translate(831.41 95.94) scale(0.993 1)" font-size="22.5" fill="#d2d2d2">C</text>
<text transform="translate(850.43 95.94) scale(1.0619 1)" letter-spacing="0.461" font-size="22.5" fill="#93cd93">2.4B</text>
<text transform="translate(913.67 95.94) scale(1.0791 1)" letter-spacing="0.564" font-size="22.5" fill="#93cd93">174.3M</text>
<text transform="translate(1004.60 95.94) scale(1.0787 1)" letter-spacing="0.501" font-size="22.5" fill="#93cd93">(+7.73%)</text>
<text transform="translate(104.20 617.04) scale(1.0378 1)" letter-spacing="0.290" font-size="22.5" fill="#d2d2d2">Volume</text>
<text transform="translate(198.94 617.04) scale(1.0943 1)" letter-spacing="0.640" font-size="22.5" fill="#4fa58e">166.887M</text>
<g clip-path="url(#topclip)">
<text transform="translate(1789.57 67.40) scale(1.0308 1)" letter-spacing="0.226" font-size="21.5" fill="#bebebe">2.8B</text>
</g>
<text transform="translate(1789.47 203.50) scale(1.0321 1)" letter-spacing="0.407" font-size="21.5" fill="#bebebe">2B</text>
<text transform="translate(1788.23 271.60) scale(0.9809 1)" letter-spacing="-0.137" font-size="21.5" fill="#bebebe">1.6B</text>
<text transform="translate(1788.23 339.80) scale(0.9809 1)" letter-spacing="-0.137" font-size="21.5" fill="#bebebe">1.2B</text>
<text transform="translate(1789.24 407.60) scale(1.0622 1)" letter-spacing="0.538" font-size="21.5" fill="#bebebe">800M</text>
<text transform="translate(1789.38 475.80) scale(1.0616 1)" letter-spacing="0.538" font-size="21.5" fill="#bebebe">400M</text>
<text transform="translate(1789.35 544.00) scale(1.058 1)" font-size="21.5" fill="#bebebe">0</text>
<text transform="translate(1788.49 662.10) scale(1.0041 1)" letter-spacing="0.035" font-size="21.5" fill="#bebebe">100B</text>
<text transform="translate(194.05 770.90) scale(1.0461 1)" letter-spacing="0.385" font-size="21.5" fill="#bebebe">Oct</text>
<text transform="translate(352.34 770.90) scale(0.9127 1)" letter-spacing="-0.216" font-size="21.5" fill="#bebebe">14</text>
<text transform="translate(552.48 770.90) scale(1.0107 1)" letter-spacing="0.104" font-size="21.5" fill="#bebebe">Nov</text>
<text transform="translate(712.12 770.90) scale(0.9266 1)" letter-spacing="-0.216" font-size="21.5" fill="#bebebe">14</text>
<text transform="translate(900.95 770.90) scale(1.0271 1)" letter-spacing="0.256" font-size="21.5" fill="#bebebe">Dec</text>
<text transform="translate(1060.84 770.90) scale(0.9127 1)" letter-spacing="-0.216" font-size="21.5" fill="#bebebe">14</text>
<text transform="translate(1255.14 770.90) scale(1.0636 1)" letter-spacing="0.494" font-size="21.5" fill="#dcdcdc" stroke="#dcdcdc" stroke-width="0.3" stroke-linejoin="round">2025</text>
<text transform="translate(1421.11 770.90) scale(0.9312 1)" letter-spacing="-0.216" font-size="21.5" fill="#bebebe">14</text>
<text transform="translate(1621.74 770.90) scale(1.0339 1)" letter-spacing="0.305" font-size="21.5" fill="#bebebe">Feb</text>
<text transform="translate(111.73 831.69) scale(1.0805 1)" letter-spacing="1.263" font-size="24.4" fill="#d2d2d2">3m</text>
<text transform="translate(172.45 831.69) scale(1.0297 1)" letter-spacing="0.476" font-size="24.4" fill="#d2d2d2">1m</text>
<text transform="translate(229.73 831.69) scale(1.0816 1)" letter-spacing="1.003" font-size="24.4" fill="#d2d2d2">5d</text>
<text transform="translate(283.61 831.69) scale(1.0492 1)" letter-spacing="0.600" font-size="24.4" fill="#d2d2d2">1d</text>
<text transform="translate(1481.69 831.69) scale(1.0620 1)" letter-spacing="0.404" font-size="24.4" fill="#d2d2d2">15:35:32 (UTC+8)</text>
<text transform="translate(1735.23 831.69) scale(1.090 1)" font-size="24.4" fill="#d2d2d2">%</text>
<text transform="translate(1781.18 831.69) scale(1.0730 1)" letter-spacing="0.538" font-size="24.4" fill="#d2d2d2">log</text>
<text transform="translate(1838.34 831.69) scale(1.0600 1)" letter-spacing="0.462" font-size="24.4" fill="#4563dd">auto</text>
<text transform="translate(1256.78 143.90) scale(1.0141 1)" letter-spacing="0.173" font-size="18.3" fill="#f2fff6" stroke="#f2fff6" stroke-width="0.3" stroke-linejoin="round">DB</text>
<text transform="translate(1789.67 131.15) scale(1.0277 1)" letter-spacing="0.204" font-size="21.5" fill="#10301a">2.4B</text>
<text transform="translate(1788.46 728.30) scale(1.0225 1)" letter-spacing="0.156" font-size="21.5" fill="#eafff8">166.887M</text></g>
</svg>
<div class="sep" style="left:362px;top:6px;height:35px"></div>
<div class="sep" style="left:443px;top:6px;height:35px"></div>
<div class="sep" style="left:664px;top:6px;height:35px"></div>
<div class="sep" style="left:855px;top:6px;height:35px"></div>
<div class="sep" style="left:1064px;top:6px;height:35px"></div>
<div class="sep" style="left:1230px;top:6px;height:35px"></div>
<div class="sep" style="left:1755px;top:6px;height:35px"></div>
<div style="position:absolute;left:331.2px;top:803px;width:1.3px;height:39px;background:#3c3c3c"></div>
<div style="position:absolute;left:1715px;top:802px;width:1.3px;height:39px;background:#474747"></div>
<div style="position:absolute;left:0;top:597.3px;width:65px;height:1.8px;background:#424248"></div>
<div style="position:absolute;left:0;top:749.6px;width:65px;height:1.8px;background:#424248"></div>
</body></html>
